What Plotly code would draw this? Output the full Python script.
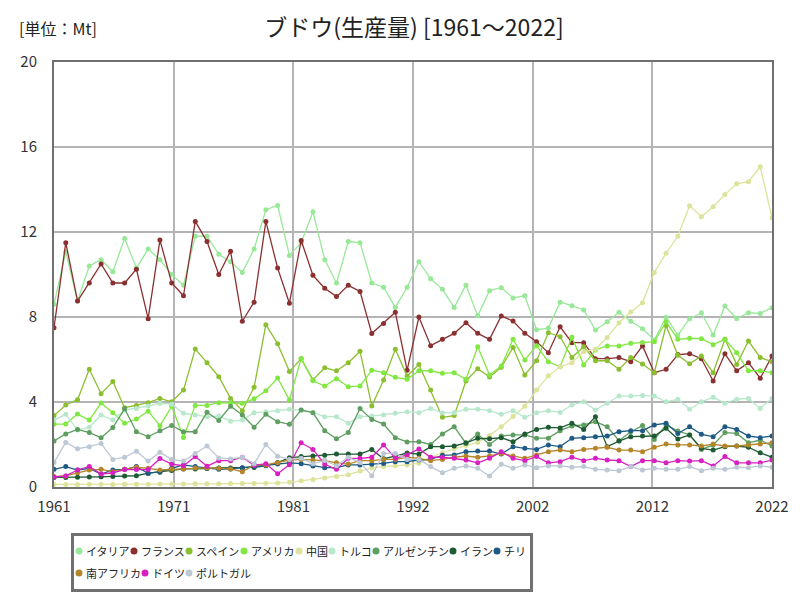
import plotly.graph_objects as go

years = list(range(1961, 2023))

italy = [8.6, 11.07, 8.75, 10.4, 10.7, 10.13, 11.7, 10.3, 11.2, 10.7,
         10.0, 9.5, 11.8, 11.8, 10.95, 10.6, 10.1, 11.2, 13.05, 13.25,
         10.9, 11.5, 12.95, 10.7, 9.6, 11.55, 11.5, 9.6, 9.4, 8.45,
         9.4, 10.6, 9.8, 9.3, 8.45, 9.5, 8.06, 9.24, 9.38, 8.9,
         9.0, 7.4, 7.48, 8.7, 8.53, 8.33, 7.39, 7.78, 8.22, 7.8,
         7.45, 6.92, 7.99, 7.15, 7.92, 8.2, 7.15, 8.52, 7.92, 8.2,
         8.17, 8.44]
france = [7.5, 11.5, 8.75, 9.6, 10.5, 9.6, 9.6, 10.25, 7.92, 11.62,
          9.6, 9.0, 12.5, 11.55, 10.0, 11.1, 7.8, 8.7, 12.5, 10.3,
          8.65, 11.6, 9.96, 9.35, 8.96, 9.49, 9.2, 7.22, 7.7, 8.22,
          5.49, 8.0, 6.65, 6.95, 7.23, 7.73, 7.23, 6.95, 8.05, 7.81,
          7.23, 6.84, 6.32, 7.54, 6.79, 6.79, 6.04, 6.04, 6.09, 5.9,
          6.64, 5.38, 5.54, 6.23, 6.27, 6.04, 4.99, 6.27, 5.47, 5.85,
          5.12, 6.16]
spain = [3.36, 3.86, 4.11, 5.54, 4.39, 4.96, 3.73, 3.84, 3.97, 4.17,
         4.01, 4.56, 6.49, 5.85, 5.19, 4.17, 3.59, 4.69, 7.64, 6.74,
         5.43, 6.04, 5.04, 5.61, 5.47, 5.85, 6.39, 3.81, 5.04, 6.48,
         5.22, 5.76, 4.56, 3.28, 3.36, 4.99, 5.57, 5.18, 5.63, 6.57,
         5.27, 5.94, 7.26, 7.07, 6.09, 6.6, 5.94, 5.94, 5.54, 6.09,
         5.79, 5.38, 7.6, 6.2, 5.8, 6.16, 5.38, 6.95, 5.77, 6.87,
         6.09, 5.9]
usa = [2.96, 2.96, 3.43, 3.15, 3.95, 3.5, 3.0, 3.2, 3.57, 2.88,
       3.8, 2.33, 3.84, 3.84, 3.97, 3.97, 3.94, 4.15, 4.53, 5.13,
       4.1, 6.05, 5.0, 4.75, 5.1, 4.72, 4.75, 5.5, 5.38, 5.16,
       5.07, 5.47, 5.47, 5.35, 5.38, 5.07, 6.6, 5.27, 5.69, 6.95,
       5.98, 6.65, 5.9, 5.66, 7.05, 5.74, 6.45, 6.64, 6.64, 6.76,
       6.8, 6.84, 7.78, 6.95, 7.0, 6.98, 6.7, 6.95, 6.32, 5.47,
       5.47, 5.38]
china = [0.12, 0.12, 0.12, 0.13, 0.13, 0.12, 0.13, 0.13, 0.13, 0.14,
         0.14, 0.14, 0.15, 0.15, 0.15, 0.16, 0.16, 0.17, 0.18, 0.19,
         0.22, 0.29, 0.35, 0.42, 0.5, 0.58, 0.75, 0.9, 0.96, 1.0,
         1.04, 1.12, 1.4, 1.6, 1.8, 1.95, 2.1, 2.42, 2.84, 3.32,
         3.8, 4.56, 5.23, 5.66, 5.85, 6.37, 6.48, 7.04, 7.73, 8.24,
         8.67, 10.1, 11.0, 11.8, 13.24, 12.72, 13.19, 13.76, 14.27, 14.37,
         15.07, 12.67]
turkey = [3.15, 3.42, 2.68, 2.81, 3.39, 3.15, 3.62, 3.7, 3.81, 3.94, 3.9, 3.47, 3.39, 3.31, 3.34, 3.1,
          3.15, 3.5, 3.54, 3.59, 3.66, 3.62, 3.5, 3.31, 3.31, 3.0, 3.31, 3.34, 3.39, 3.47, 3.54, 3.5,
          3.7, 3.5, 3.5, 3.66, 3.66, 3.59, 3.42, 3.59, 3.28, 3.5, 3.59, 3.51, 3.86, 4.01,
          3.62, 3.94, 4.28, 4.28, 4.31, 4.28, 4.01, 4.13, 3.66, 4.01, 4.22, 3.94, 4.13, 4.17, 3.7, 4.17]
argentina = [2.17, 2.5, 2.71, 2.56, 2.32, 2.8, 3.68, 2.6, 2.37, 2.65, 2.9, 2.6, 2.6, 3.52, 3.13, 3.8,
             3.39, 2.81, 3.42, 3.07, 2.95, 3.62, 3.5, 2.65, 2.27, 2.56, 3.69, 3.18, 2.96, 2.32, 2.12, 2.13,
             2.0, 2.5, 2.84, 2.05, 2.49, 2.0, 2.4, 2.45, 2.45, 2.3, 2.3, 2.65, 2.87, 2.92,
             3.07, 2.84, 2.18, 2.6, 2.89, 2.24, 2.92, 2.64, 2.45, 1.77, 1.98, 2.56, 2.52, 2.08, 2.21, 1.93]
iran = [0.45, 0.45, 0.46, 0.47, 0.48, 0.5, 0.52, 0.53, 0.65, 0.7, 0.78, 0.85, 0.85, 0.87, 0.9, 0.9, 0.9, 0.92, 1.0, 1.15,
        1.38, 1.43, 1.46, 1.5, 1.55, 1.55, 1.55, 1.77, 1.33, 1.45, 1.6, 1.55, 1.9, 1.9, 1.93, 2.08, 2.29, 2.27, 2.32, 2.13,
        2.49, 2.71, 2.81, 2.78, 3.0, 2.71, 3.31, 1.9, 2.16, 2.37, 2.4, 2.4, 2.76, 2.26, 2.45, 1.82, 1.74, 1.9, 1.93, 1.87, 1.61, 1.4]
chile = [0.83, 0.96, 0.8, 0.88, 0.61, 0.8, 0.83, 0.96, 0.64, 0.72, 0.88, 1.04, 0.96, 0.88, 0.83, 0.85,
         0.91, 0.96, 1.04, 1.08, 1.14, 1.1, 0.99, 0.91, 0.91, 1.04, 1.04, 1.07, 1.11, 1.19, 1.19, 1.27,
         1.3, 1.49, 1.51, 1.66, 1.69, 1.69, 1.55, 1.9, 1.82, 1.77, 1.98, 1.9, 2.29, 2.32,
         2.37, 2.4, 2.6, 2.65, 2.65, 2.92, 3.0, 2.52, 2.84, 2.48, 2.37, 2.84, 2.71, 2.4, 2.32, 2.4]
south_africa = [0.49, 0.52, 0.67, 0.8, 0.83, 0.72, 0.83, 0.93, 0.88, 0.8, 0.83, 0.85, 0.9, 0.9, 0.88, 0.85,
                0.72, 1.04, 1.04, 1.14, 1.27, 1.3, 1.27, 1.24, 1.14, 1.08, 1.24, 1.24, 1.3, 1.3, 1.4, 1.35,
                1.24, 1.3, 1.4, 1.46, 1.4, 1.46, 1.58, 1.46, 1.35, 1.51, 1.66, 1.74, 1.66, 1.77,
                1.82, 1.87, 1.74, 1.74, 1.66, 1.87, 2.02, 1.98, 1.98, 1.93, 2.02, 1.93, 1.93, 1.98, 2.02, 2.08]
germany = [0.47, 0.52, 0.8, 0.97, 0.61, 0.67, 0.82, 0.82, 0.82, 1.34, 1.08, 1.0, 1.43, 0.98, 1.24, 1.24,
           1.4, 1.02, 1.1, 0.62, 1.05, 2.08, 1.77, 1.07, 0.83, 1.35, 1.35, 1.4, 1.98, 1.35, 1.51, 1.79,
           1.4, 1.4, 1.35, 1.27, 1.14, 1.35, 1.66, 1.35, 1.24, 1.43, 1.14, 1.19, 1.4, 1.24,
           1.35, 1.27, 1.24, 0.96, 1.24, 1.24, 1.14, 1.24, 1.22, 1.24, 0.99, 1.43, 1.14, 1.14, 1.14, 1.27]
portugal = [1.15, 2.1, 1.8, 1.9, 2.05, 1.3, 1.4, 1.68, 1.22, 1.63, 1.3, 1.22, 1.58, 1.93, 1.37, 1.32,
            1.4, 1.1, 2.0, 1.45, 1.3, 1.35, 1.1, 1.25, 1.0, 1.4, 1.15, 0.53, 1.58, 1.58, 1.3, 1.3,
            0.96, 0.67, 0.88, 0.99, 0.88, 0.52, 1.07, 0.88, 1.04, 0.91, 0.99, 0.99, 0.93, 0.96,
            0.83, 0.8, 0.77, 0.96, 0.8, 0.88, 0.83, 0.83, 0.96, 0.77, 0.88, 0.83, 0.93, 0.91, 0.99, 0.93]

names = ["イタリア", "フランス", "スペイン", "アメリカ", "中国", "トルコ",
         "アルゼンチン", "イラン", "チリ", "南アフリカ", "ドイツ", "ポルトガル"]
series = [italy, france, spain, usa, china, turkey, argentina, iran, chile,
          south_africa, germany, portugal]
colors = ["#98E898", "#8B3030", "#8CBF30", "#80E840", "#DDE39A", "#B8E8CC",
          "#5E9E60", "#1E5A32", "#1F5A85", "#B5852A", "#D820C0", "#BCC8D4"]

x_tick_labels = ["1961", "1971", "1981", "1992", "2002", "2012", "2022"]
y_ticks = [0, 4, 8, 12, 16, 20]

for s in series:
    assert len(s) == len(years), len(s)

FONT = "Noto Sans CJK JP"
OFF = 8          # page body margin (screen px -> figure px)
FW, FH = 800, 600


def px(xs):
    """screen pixel x -> paper fraction (margins are zero)"""
    return (xs - OFF) / FW


def py(ys):
    return 1 - (ys - OFF) / FH


fig = go.Figure()
for name, vals, col in zip(names, series, colors):
    fig.add_trace(go.Scatter(
        x=years, y=vals, name=name, mode="lines+markers",
        line=dict(color=col, width=1.3),
        marker=dict(color=col, size=5),
        showlegend=False,
    ))

# empty trace that hosts the legend-frame axes
fig.add_trace(go.Scatter(x=[], y=[], xaxis="x2", yaxis="y2", showlegend=False,
                         hoverinfo="skip"))

span = years[-1] - years[0]
tickvals = [years[0] + span * k / 6 for k in range(7)]

fs = 11
rows = [names[:9], names[9:]]
row_y = [551, 573]
x0 = 79
max_end = 0
positions = []
for r, row in enumerate(rows):
    x = x0
    for nm in row:
        positions.append((x, row_y[r], nm))
        max_end = max(max_end, x + 5 + fs * len(nm))
        x = x + fs * len(nm) + 11
box_l, box_r, box_t, box_b = 73, max_end + 7, 535, 590

fig.update_layout(
    width=FW, height=FH,
    margin=dict(l=0, r=0, t=0, b=0, pad=0, autoexpand=False),
    paper_bgcolor="white", plot_bgcolor="white",
    font=dict(family=FONT, color="#333333"),
    title=dict(text="ブドウ(生産量) [1961～2022]", x=(414 - OFF) / FW, xanchor="center",
               y=1 - (28 - OFF) / FH, yanchor="middle", yref="container",
               font=dict(size=23, color="#222222", family=FONT)),
    xaxis=dict(domain=[px(54), px(772)], range=[years[0], years[-1]],
               tickvals=tickvals, ticktext=x_tick_labels, automargin=False,
               showgrid=True, gridcolor="#B4B4B4", gridwidth=1.5,
               showline=True, linecolor="#707070", linewidth=2, mirror=True,
               ticks="", ticklabelstandoff=5, tickfont=dict(size=15, color="#333333"),
               zeroline=False),
    yaxis=dict(domain=[py(487), py(62)], range=[0, 20], tickvals=y_ticks, automargin=False,
               showgrid=True, gridcolor="#B4B4B4", gridwidth=1.5,
               showline=True, linecolor="#707070", linewidth=2, mirror=True,
               ticks="", ticklabelstandoff=12, tickfont=dict(size=15, color="#333333"),
               zeroline=False),
    xaxis2=dict(domain=[px(box_l), px(box_r)], anchor="y2", range=[0, 1], automargin=False,
                showline=True, linecolor="#707070", linewidth=2, mirror=True,
                showgrid=False, zeroline=False, showticklabels=False, ticks="",
                fixedrange=True),
    yaxis2=dict(domain=[py(box_b), py(box_t)], anchor="x2", range=[0, 1], automargin=False,
                showline=True, linecolor="#707070", linewidth=2, mirror=True,
                showgrid=False, zeroline=False, showticklabels=False, ticks="",
                fixedrange=True),
)

# extra frame shape over the same box, to make sure the border is drawn
fig.add_shape(type="rect", xref="paper", yref="paper",
              x0=px(box_l), x1=px(box_r), y0=py(box_b), y1=py(box_t),
              line=dict(color="#707070", width=2), fillcolor="rgba(0,0,0,0)", layer="above")

fig.add_annotation(text="[単位：Mt]", xref="paper", yref="paper",
                   x=px(17), y=py(28), xanchor="left", yanchor="middle",
                   showarrow=False, font=dict(size=16, color="#222222", family=FONT))

# custom legend entries (dot + label)
for (x, y, nm), col in zip(positions, colors):
    fig.add_shape(type="circle", xref="paper", yref="paper",
                  x0=px(x - 3.5), x1=px(x + 3.5), y0=py(y + 3.5), y1=py(y - 3.5),
                  fillcolor=col, line=dict(color=col, width=0))
    fig.add_annotation(text=nm, xref="paper", yref="paper", x=px(x + 5), y=py(y),
                       xanchor="left", yanchor="middle", showarrow=False,
                       font=dict(size=fs, color="#222222", family=FONT))

fig.write_html("out.html")
